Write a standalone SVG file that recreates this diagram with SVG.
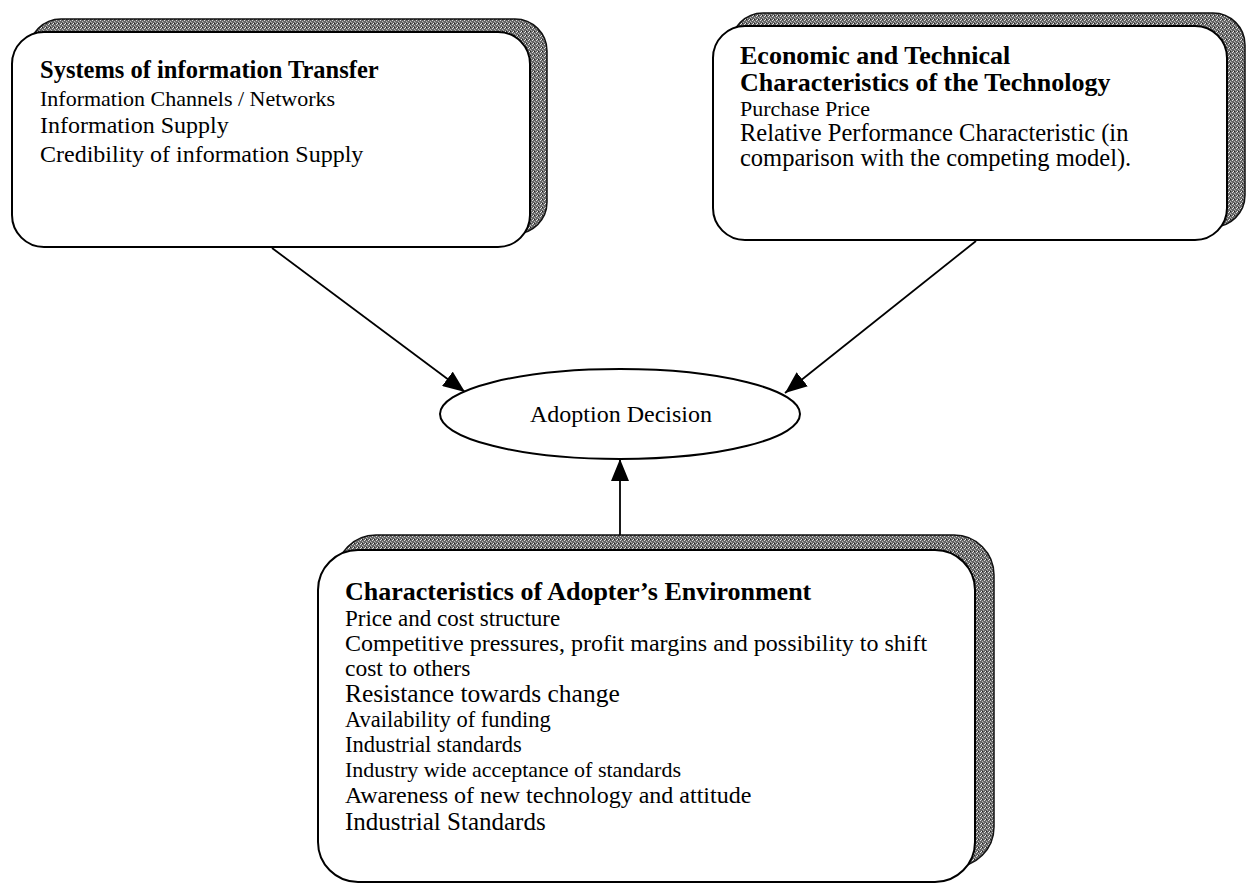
<svg xmlns="http://www.w3.org/2000/svg" width="1250" height="894" viewBox="0 0 1250 894">
<defs>
<pattern id="stip" width="4" height="4" patternUnits="userSpaceOnUse">
<rect width="4" height="4" fill="#666"/>
<rect x="0" y="0" width="1" height="1" fill="#ddd"/>
<rect x="2" y="1" width="1" height="1" fill="#bbb"/>
<rect x="1" y="3" width="1" height="1" fill="#eee"/>
<rect x="3" y="2" width="1" height="1" fill="#aaa"/>
<rect x="2" y="3" width="1" height="1" fill="#222"/>
</pattern>
<marker id="ah" markerWidth="24" markerHeight="18" refX="22" refY="9" orient="auto" markerUnits="userSpaceOnUse">
<path d="M0,0 L22,9 L0,18 Z" fill="#000"/>
</marker>
</defs>
<style>
.shadow{fill:url(#stip);stroke:#111;stroke-width:1.5}
.box{fill:#fff;stroke:#000;stroke-width:2}
.t{font-family:"Liberation Serif","Times New Roman",serif;fill:#000}
.b{font-weight:bold}
.conn{stroke:#000;stroke-width:1.8;fill:none}
</style>
<rect width="1250" height="894" fill="#fff"/>

<g id="connectors">
<line class="conn" x1="272" y1="248" x2="465" y2="392" marker-end="url(#ah)"/>
<line class="conn" x1="976" y1="241" x2="785" y2="393" marker-end="url(#ah)"/>
<line class="conn" x1="620" y1="549" x2="620" y2="459" marker-end="url(#ah)"/>
</g>

<g id="node-info-transfer">
<rect class="shadow" x="29" y="19" width="518" height="215" rx="32"/>
<rect class="box" x="12" y="32" width="518" height="215" rx="32"/>
<text class="t b" x="40" y="78" font-size="24.5">Systems of information Transfer</text>
<text class="t" x="40" y="106" font-size="22">Information Channels / Networks</text>
<text class="t" x="40" y="133" font-size="24">Information Supply</text>
<text class="t" x="40" y="162" font-size="24">Credibility of information Supply</text>
</g>

<g id="node-econ-tech">
<rect class="shadow" x="731" y="13" width="514" height="214" rx="32"/>
<rect class="box" x="713" y="26" width="514" height="214" rx="32"/>
<text class="t b" x="740" y="64" font-size="26">Economic and Technical</text>
<text class="t b" x="740" y="91" font-size="26">Characteristics of the Technology</text>
<text class="t" x="740" y="116" font-size="22">Purchase Price</text>
<text class="t" x="740" y="141" font-size="24.5">Relative Performance Characteristic (in</text>
<text class="t" x="740" y="166" font-size="24.5">comparison with the competing model).</text>
</g>

<g id="node-adoption">
<ellipse class="box" cx="620" cy="414" rx="180" ry="45"/>
<text class="t" x="621" y="422" font-size="24" text-anchor="middle">Adoption Decision</text>
</g>

<g id="node-environment">
<rect class="shadow" x="336" y="535" width="658" height="332" rx="40"/>
<rect class="box" x="318" y="550" width="657" height="332" rx="40"/>
<text class="t b" x="345" y="600" font-size="26">Characteristics of Adopter’s Environment</text>
<text class="t" x="345" y="626" font-size="23">Price and cost structure</text>
<text class="t" x="345" y="651" font-size="24">Competitive pressures, profit margins and possibility to shift</text>
<text class="t" x="345" y="676" font-size="23.5">cost to others</text>
<text class="t" x="345" y="702" font-size="25.5">Resistance towards change</text>
<text class="t" x="345" y="727" font-size="22.5">Availability of funding</text>
<text class="t" x="345" y="752" font-size="22.5">Industrial standards</text>
<text class="t" x="345" y="777" font-size="22">Industry wide acceptance of standards</text>
<text class="t" x="345" y="803" font-size="24">Awareness of new technology and attitude</text>
<text class="t" x="345" y="830" font-size="25">Industrial Standards</text>
</g>
</svg>
